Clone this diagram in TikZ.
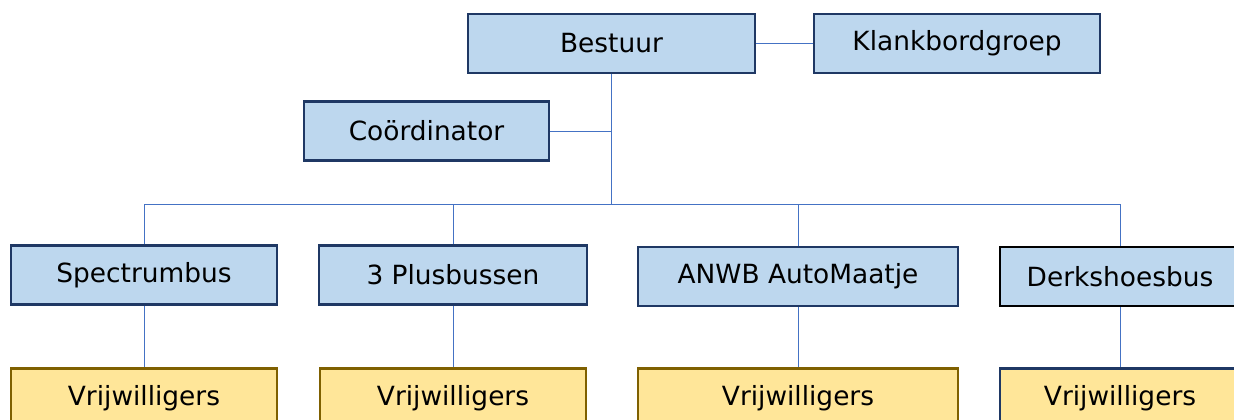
\documentclass[tikz,border=0pt]{standalone}
\usepackage{fontspec}
\setmainfont{DejaVu Sans}
\usepackage{tikz}
\usetikzlibrary{positioning}

\definecolor{boxblue}{HTML}{BDD7EE}
\definecolor{boxyellow}{HTML}{FFE699}
\definecolor{navy}{HTML}{1F3864}
\definecolor{brownish}{HTML}{7F6000}
\definecolor{linkblue}{HTML}{4472C4}

\begin{document}
\begin{tikzpicture}[x=0.5pt, y=-0.5pt,
    org/.style={draw=navy, line width=1.2pt, fill=boxblue, minimum height=29.5pt, inner sep=0pt,
        font=\fontsize{13.2}{15}\selectfont},
    vol/.style={org, draw=brownish, fill=boxyellow},
    link/.style={draw=linkblue, line width=0.5pt}]
    \useasboundingbox (0,0) rectangle (1234,419);

    \node[org, minimum width=143.5pt] (bestuur) at (611.5,43.5) {Bestuur};
    \node[org, minimum width=143pt] (klank) at (957,43.5) {Klankbordgroep};
    \node[org, minimum width=122.5pt] (coord) at (426.5,131) {Coördinator};

    \node[org, minimum width=133pt] (spectrum) at (144,275) {Spectrumbus};
    \node[org, minimum width=134pt] (plus) at (453,275) {3 Plusbussen};
    \node[org, minimum width=160pt] (anwb) at (798,276.5) {ANWB AutoMaatje};
    \node[org, draw=black, minimum width=120pt] (derks) at (1120,276.5) {Derkshoesbus};

    \node[vol, minimum width=133pt] (vrij1) at (144,398) {Vrijwilligers};
    \node[vol, minimum width=133pt] (vrij2) at (453,398) {Vrijwilligers};
    \node[vol, minimum width=160pt] (vrij3) at (798,398) {Vrijwilligers};
    \node[vol, draw=navy, minimum width=120pt] (vrij4) at (1120,398) {Vrijwilligers};

    \coordinate (bus) at (611.5,204);

    \path[link]
    (bestuur) -- (klank)
    (bestuur) -- (bus)
    (coord) -- (coord -| bus)
    (spectrum.north) |- (bus -| derks.north) -- (derks.north)
    (plus.north) -- (plus.north |- bus)
    (anwb.north) -- (anwb.north |- bus)
    (spectrum) -- (vrij1)
    (plus) -- (vrij2)
    (anwb) -- (vrij3)
    (derks) -- (vrij4);
\end{tikzpicture}
\end{document}
